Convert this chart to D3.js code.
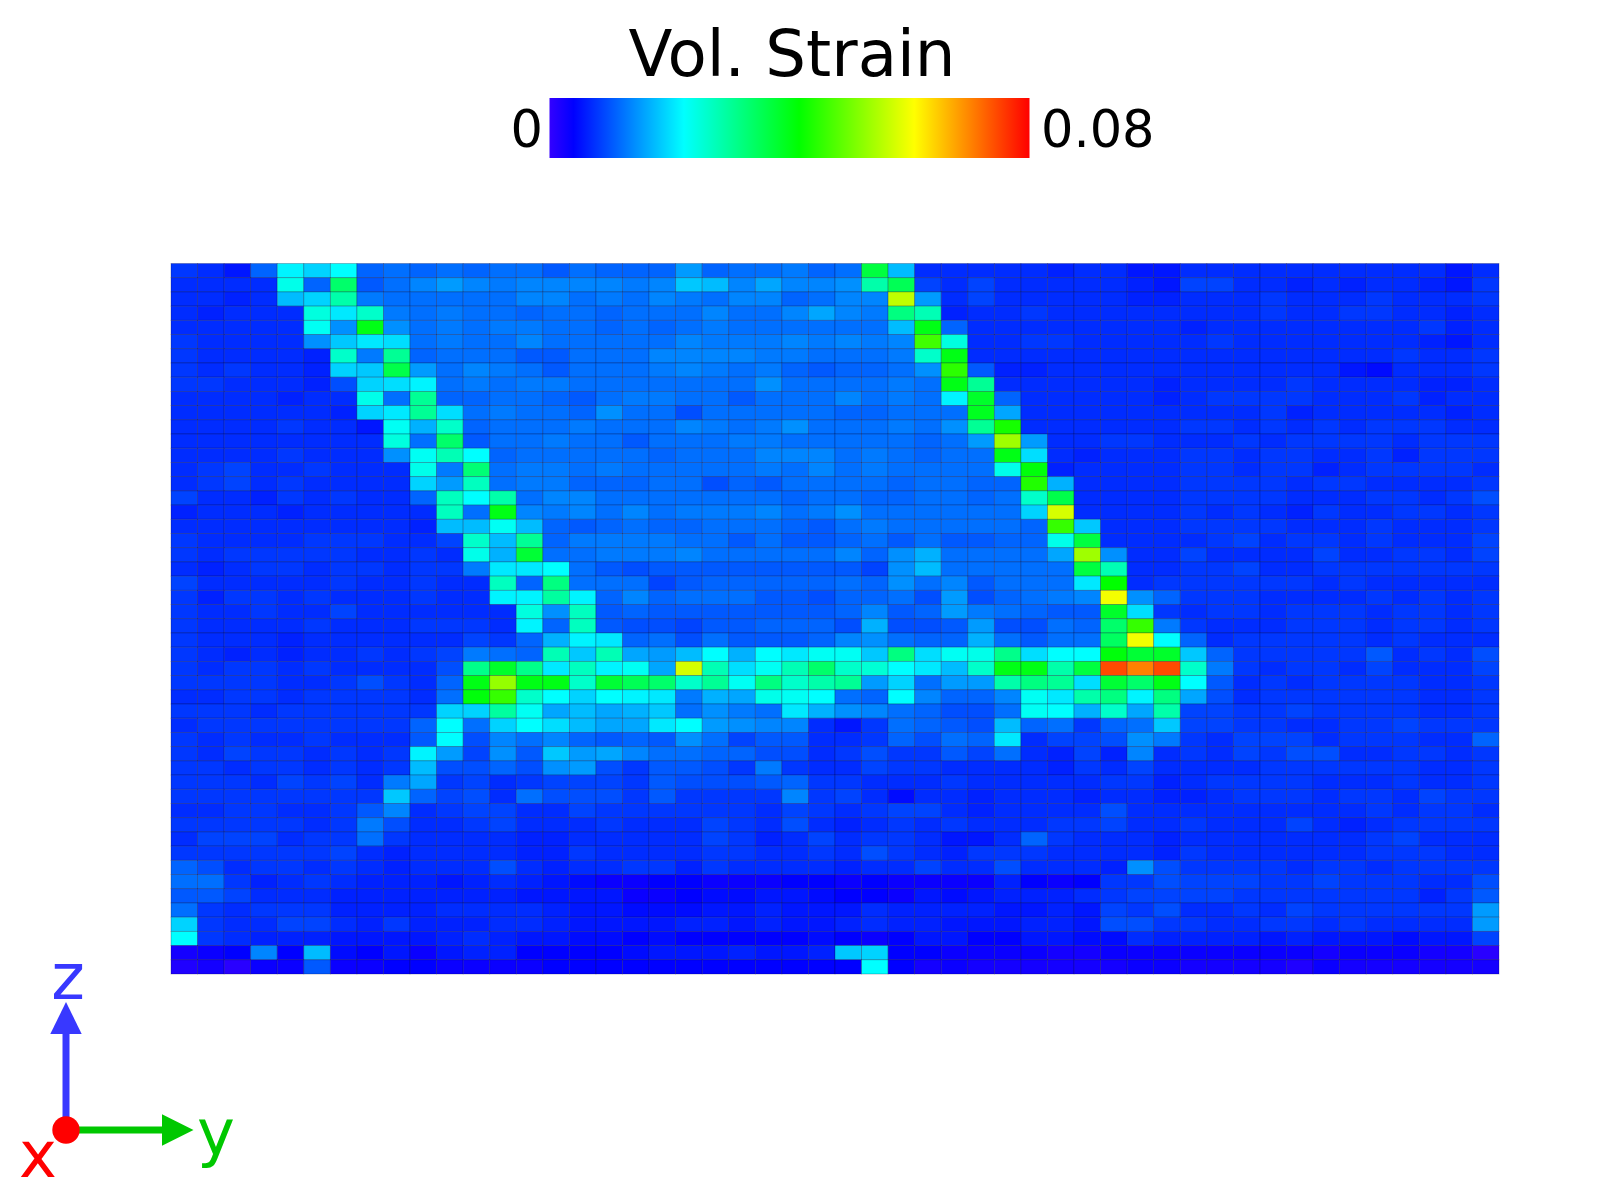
<!DOCTYPE html>
<html><head><meta charset="utf-8">
<script src="https://cdn.jsdelivr.net/npm/d3@7"></script>
<style>html,body{margin:0;padding:0;background:#fff}svg{display:block}text{font-family:"DejaVu Sans",sans-serif}</style>
</head><body><div id="chart"></div>
<script>
// Volumetric strain per cell, as a percentage of the colour-bar maximum. Rows run top to bottom, columns left to right.
const strainRows = [
[10,9,7,14,27,24,28,14,15,14,15,14,15,15,13,15,14,14,14,19,14,15,15,16,14,15,46,22,9,9,9,9,9,8,9,9,7,7,9,9,9,9,9,9,9,9,9,9,7,9],
[9,9,9,9,30,14,42,13,15,17,19,17,16,17,17,17,17,16,17,23,22,17,20,17,17,18,36,44,11,9,11,9,9,9,9,9,8,7,11,11,9,9,8,9,8,9,9,8,7,10],
[9,9,8,9,22,24,36,16,15,15,15,15,15,17,17,15,16,15,17,16,15,17,17,14,15,17,17,70,19,9,11,9,9,9,9,9,8,8,9,9,9,10,9,9,9,10,9,9,9,10],
[9,8,9,9,9,31,26,33,16,15,16,15,15,14,15,15,14,15,15,15,17,15,15,17,20,17,16,40,35,8,9,9,10,9,9,9,9,9,9,9,9,10,9,9,10,10,9,9,8,9],
[9,9,9,9,9,29,18,50,18,15,16,15,16,16,15,15,14,15,14,15,16,15,15,15,15,15,15,22,50,14,9,9,9,9,9,9,9,9,8,9,9,9,9,9,9,9,9,10,8,9],
[10,9,9,9,9,18,23,26,25,15,16,15,15,17,15,15,15,15,15,17,16,16,16,17,16,17,16,17,58,31,9,9,10,10,9,9,9,9,9,10,9,9,9,9,9,9,9,8,7,9],
[10,9,9,9,9,8,33,16,38,14,15,15,15,13,13,15,15,15,17,17,17,17,16,16,15,15,15,16,33,50,9,9,9,9,9,9,9,9,9,9,9,9,9,9,9,9,10,9,9,10],
[10,9,10,9,9,8,24,23,45,19,15,17,16,15,13,15,15,15,16,17,16,15,16,14,13,14,14,15,18,56,13,8,8,9,9,9,9,9,9,9,9,9,9,9,7,6,9,9,9,10],
[10,10,9,9,9,8,12,24,25,27,15,16,15,16,16,15,15,15,15,15,15,15,18,15,15,15,15,16,15,50,38,9,9,9,9,9,9,8,9,9,9,9,10,9,9,9,9,8,8,9],
[9,9,9,9,8,9,9,30,15,38,14,14,15,15,14,13,15,16,16,15,15,13,15,15,15,17,15,16,15,27,48,14,9,9,9,9,9,8,9,10,10,10,10,9,9,9,10,8,9,9],
[9,9,9,9,9,9,8,24,26,38,25,15,16,15,15,14,18,15,15,12,15,15,15,15,15,14,14,15,15,15,49,20,9,9,9,9,9,9,9,9,9,10,8,9,9,9,9,9,8,9],
[9,9,9,9,10,9,9,7,29,21,33,14,15,15,15,16,15,15,15,17,16,15,16,18,15,15,15,16,15,18,38,54,9,9,9,9,9,9,10,10,9,10,9,10,9,10,10,10,9,9],
[9,9,9,9,9,9,9,9,31,15,42,13,15,15,16,15,15,13,15,15,15,16,16,15,15,15,15,15,14,15,19,67,19,9,9,10,10,9,9,9,10,9,10,10,10,10,9,10,10,10],
[9,9,9,9,10,9,9,9,18,29,35,28,14,15,15,15,15,15,14,15,15,15,17,17,17,15,16,15,14,15,15,50,25,9,8,9,9,9,10,10,9,10,10,9,9,10,8,10,10,10],
[9,10,11,9,9,10,9,9,9,30,16,41,15,16,16,15,16,15,15,15,15,15,16,15,17,15,16,15,15,15,15,30,51,8,9,9,9,9,10,10,9,10,10,8,9,10,10,10,10,9],
[9,10,11,9,10,9,9,9,9,24,19,34,15,16,16,14,14,14,15,15,12,14,13,15,15,15,15,14,15,15,14,14,55,21,9,9,9,9,10,10,10,10,9,10,10,9,9,9,9,10],
[11,9,9,8,10,9,10,9,9,14,34,28,36,15,17,17,15,15,15,15,15,15,15,14,15,15,14,14,15,15,14,15,33,45,9,9,9,9,10,10,10,10,9,9,9,10,10,9,10,12],
[8,9,9,9,8,9,9,9,9,9,34,15,50,17,16,17,15,17,15,16,16,16,17,15,16,18,15,15,15,15,15,15,24,72,9,9,9,9,10,9,10,9,8,10,9,9,10,10,9,10],
[9,9,9,9,9,9,9,9,9,8,22,22,29,22,14,13,14,15,14,14,15,15,15,14,13,15,16,15,15,15,15,15,14,57,23,9,9,9,10,10,10,10,9,9,9,10,9,9,9,10],
[10,9,9,9,9,10,10,10,9,9,11,33,22,38,14,16,16,16,16,15,15,13,15,13,13,14,15,13,15,13,13,14,14,30,46,9,9,9,9,10,11,9,10,10,9,10,9,9,9,11],
[10,9,10,10,10,10,10,9,9,10,9,30,21,47,15,15,16,16,16,17,15,15,15,15,15,17,14,18,21,15,15,15,15,20,67,18,9,9,11,9,9,9,9,11,9,9,10,10,9,11],
[9,8,9,10,10,9,10,10,9,10,10,16,26,26,28,15,13,12,13,13,13,13,13,13,13,13,11,18,22,15,15,15,15,15,46,35,9,9,10,10,11,9,9,10,10,10,10,10,10,10],
[11,9,9,9,9,9,10,9,9,10,9,9,34,14,40,15,15,15,11,13,14,14,14,14,14,15,14,18,15,17,13,15,15,15,26,52,9,10,10,10,10,10,10,9,10,9,9,9,9,9],
[10,8,10,10,9,10,9,9,9,10,9,9,27,27,37,27,14,17,14,15,15,15,13,13,12,14,14,15,12,19,12,14,15,16,17,75,18,14,10,10,10,9,9,9,9,10,9,10,9,10],
[10,9,9,10,9,9,11,9,9,9,9,9,9,31,18,34,13,14,13,13,13,13,13,13,13,14,17,13,14,19,16,15,14,13,13,48,25,10,9,10,10,9,10,10,10,9,10,10,9,10],
[10,9,9,9,9,10,9,9,9,10,10,10,9,27,14,34,13,12,12,11,13,13,14,14,14,12,21,12,12,13,19,12,12,15,14,42,57,16,10,9,9,9,10,10,10,9,10,10,9,10],
[10,9,9,9,8,9,9,9,9,9,9,11,10,14,21,27,26,14,15,12,15,13,13,13,14,17,18,15,14,14,21,15,13,15,15,43,75,28,14,9,10,10,10,10,10,9,10,9,9,9],
[10,9,8,9,8,9,9,10,9,10,11,16,15,14,35,23,35,20,19,22,28,21,28,26,29,29,23,40,25,29,30,39,25,28,28,51,47,48,23,14,10,10,10,10,10,13,9,10,9,12],
[10,9,10,10,9,10,9,9,9,9,12,39,48,39,26,34,27,29,20,72,35,25,29,35,42,33,32,28,26,22,33,50,50,36,46,93,88,93,33,16,10,9,10,10,9,11,9,9,9,11],
[10,10,10,10,9,9,10,12,10,9,14,50,66,50,50,33,47,44,42,33,38,29,40,33,36,38,19,24,15,19,19,36,40,38,25,47,42,50,28,13,9,10,9,10,10,10,10,9,9,10],
[9,9,10,10,9,10,10,10,10,9,15,51,57,33,28,24,28,27,26,16,21,20,30,29,28,15,14,28,17,14,14,17,29,26,36,40,27,40,20,12,9,10,10,10,10,10,10,9,9,10],
[10,10,10,9,10,10,10,10,10,10,24,24,37,29,20,22,20,21,23,15,18,16,15,26,21,18,17,15,14,12,12,15,29,28,21,33,20,36,11,11,10,10,11,10,10,10,10,9,9,10],
[9,10,10,10,10,10,10,10,10,14,28,15,24,28,25,22,20,20,26,28,19,18,17,17,9,7,10,15,14,13,12,22,14,15,10,14,15,23,11,11,10,10,9,9,10,10,11,10,10,10],
[10,9,10,9,9,10,9,9,9,13,28,12,17,15,17,14,13,14,13,18,15,11,13,13,9,9,10,14,12,15,14,26,9,11,11,12,18,16,10,9,11,11,11,9,10,10,10,9,9,14],
[10,9,11,10,10,9,10,9,10,27,19,11,18,13,23,19,20,17,15,15,14,14,12,12,9,10,12,10,10,13,11,15,9,8,11,8,17,9,10,9,11,10,12,12,9,9,10,10,9,10],
[10,10,9,10,10,9,10,9,10,22,12,12,14,12,18,19,12,10,13,13,12,10,16,10,9,9,11,10,10,9,9,9,9,8,10,9,11,9,9,9,9,10,10,10,10,10,10,9,9,10],
[10,10,10,9,11,10,11,9,16,20,10,11,9,10,11,11,11,10,13,12,12,12,13,14,10,10,9,9,9,10,9,9,9,9,9,10,10,8,9,10,10,10,10,9,9,9,10,9,9,10],
[10,10,10,10,10,10,10,10,23,14,11,12,9,15,12,12,12,10,13,10,10,10,10,17,10,11,9,6,9,9,8,9,9,9,8,9,9,8,8,9,10,10,10,9,10,10,9,11,10,10],
[9,9,10,10,9,9,10,13,17,9,10,11,11,9,9,11,10,10,10,10,10,10,9,11,10,9,10,11,11,9,8,9,9,9,9,12,9,9,9,9,9,9,9,9,9,10,9,10,10,9],
[10,10,10,10,10,9,10,16,12,9,9,10,11,9,9,9,10,9,9,9,11,10,9,12,9,8,9,10,9,10,9,9,9,10,10,11,9,9,10,9,9,9,11,9,8,9,10,10,10,10],
[9,11,11,11,9,10,10,15,10,9,9,9,9,8,8,9,9,9,9,9,11,10,8,9,11,9,10,10,9,7,7,9,14,10,9,9,9,8,9,9,9,9,9,9,9,10,11,9,9,9],
[10,10,10,10,10,10,11,9,8,9,9,9,9,8,8,10,9,9,9,9,10,10,9,9,10,9,12,10,9,8,10,10,10,9,9,9,9,8,10,9,9,9,9,9,9,10,10,10,9,9],
[14,12,9,10,10,9,10,9,8,9,9,9,12,9,8,9,9,10,10,8,10,9,9,9,9,8,9,9,11,9,9,12,9,9,9,8,18,12,10,10,10,10,9,10,10,9,10,10,10,10],
[15,15,10,8,9,10,9,8,8,8,7,8,9,8,7,6,4,4,5,5,4,4,4,5,5,4,5,4,4,4,4,8,5,4,5,10,10,12,11,11,11,10,10,11,10,10,10,9,9,12],
[13,13,11,9,9,9,8,8,8,8,8,8,8,7,7,7,7,4,4,5,6,6,7,7,6,5,5,4,7,6,7,8,8,8,9,10,11,11,11,11,10,10,10,10,10,10,10,8,10,13],
[15,10,9,10,10,10,8,8,8,8,9,9,9,9,8,7,7,6,6,6,7,7,8,7,7,7,9,8,8,8,8,7,7,8,7,11,10,12,9,9,10,9,11,10,10,10,10,10,10,19],
[24,10,9,9,11,11,9,8,10,8,8,8,9,9,8,7,7,7,7,8,8,7,8,7,7,8,9,8,8,7,7,7,8,8,7,12,12,10,10,9,9,10,10,9,10,9,9,9,9,19],
[28,10,9,8,8,8,7,7,7,7,8,9,8,7,7,6,6,5,6,5,5,5,5,5,6,5,4,5,7,7,5,5,7,7,6,6,9,8,8,8,8,7,8,7,7,7,6,7,7,11],
[3,4,5,17,5,22,6,5,7,4,7,8,8,5,5,5,5,6,7,7,7,8,7,7,8,23,24,5,5,4,4,4,4,3,3,4,4,4,4,4,4,4,4,3,4,4,4,3,3,1],
[2,3,1,4,4,13,4,4,5,5,4,4,4,4,5,5,5,5,5,5,5,5,5,5,5,5,28,5,3,4,3,3,3,3,3,3,4,4,3,3,3,3,2,4,3,3,3,3,3,3]
];
const colorStops = [0, 5, 28, 52, 76, 100];
const colorValues = ["#3300ff", "#0000ff", "#00ffff", "#00ff00", "#ffff00", "#ff0000"];
const titleText = "Vol. Strain";
const barLabels = ["0", "0.08"];
const axisLabels = ["x", "y", "z"];
const axisColors = ["#ff0000", "#00c800", "#3838ff"];

const svg = d3.select("#chart").append("svg").attr("width", 1600).attr("height", 1200);
const color = d3.scaleLinear().domain(colorStops).range(colorValues);
const xBand = d3.scaleBand().domain(d3.range(strainRows[0].length)).range([171, 1499]);
const yBand = d3.scaleBand().domain(d3.range(strainRows.length)).range([263.5, 974]);

// heat map
svg.append("g").selectAll("g").data(strainRows).join("g")
  .selectAll("rect").data((row, r) => row.map((v, c) => ({v, r, c}))).join("rect")
  .attr("x", d => xBand(d.c)).attr("y", d => yBand(d.r))
  .attr("width", xBand.bandwidth()).attr("height", yBand.bandwidth())
  .attr("fill", d => color(d.v))
  .attr("stroke", "#000030").attr("stroke-opacity", 0.32).attr("stroke-width", 0.8);

// colour bar
const defs = svg.append("defs");
const grad = defs.append("linearGradient").attr("id", "bar").attr("x1", 0).attr("x2", 1).attr("y1", 0).attr("y2", 0);
grad.selectAll("stop").data(colorStops).join("stop")
  .attr("offset", d => d + "%").attr("stop-color", d => color(d));
svg.append("rect").attr("x", 549.5).attr("y", 98).attr("width", 480).attr("height", 60).attr("fill", "url(#bar)");
svg.append("text").attr("x", 792).attr("y", 75.5).attr("text-anchor", "middle").attr("font-size", 64.2).attr("fill", "#000").text(titleText);
svg.append("text").attr("x", 543).attr("y", 147).attr("text-anchor", "end").attr("font-size", 51).attr("fill", "#000").text(barLabels[0]);
svg.append("text").attr("x", 1041).attr("y", 147).attr("font-size", 51).attr("fill", "#000").text(barLabels[1]);

// orientation triad
const ox = 66, oy = 1130;
const triad = svg.append("g");
triad.append("line").attr("x1", ox).attr("y1", oy).attr("x2", ox).attr("y2", 1034).attr("stroke", axisColors[2]).attr("stroke-width", 7);
triad.append("path").attr("d", d3.line()([[ox, 1002], [ox + 15.7, 1034], [ox - 15.7, 1034]]) + "Z").attr("fill", axisColors[2]);
triad.append("line").attr("x1", ox).attr("y1", oy).attr("x2", 162).attr("y2", oy).attr("stroke", axisColors[1]).attr("stroke-width", 7);
triad.append("path").attr("d", d3.line()([[193.5, oy], [162, oy - 15.7], [162, oy + 15.7]]) + "Z").attr("fill", axisColors[1]);
triad.append("circle").attr("cx", ox).attr("cy", oy).attr("r", 13.7).attr("fill", axisColors[0]);
const labelX = [38, 216, 68], labelY = [1176.5, 1155, 999];
triad.selectAll("text").data(axisLabels).join("text")
  .attr("x", (d, i) => labelX[i]).attr("y", (d, i) => labelY[i])
  .attr("text-anchor", "middle").attr("font-size", 64)
  .attr("fill", (d, i) => axisColors[i]).text(d => d);
</script></body></html>
